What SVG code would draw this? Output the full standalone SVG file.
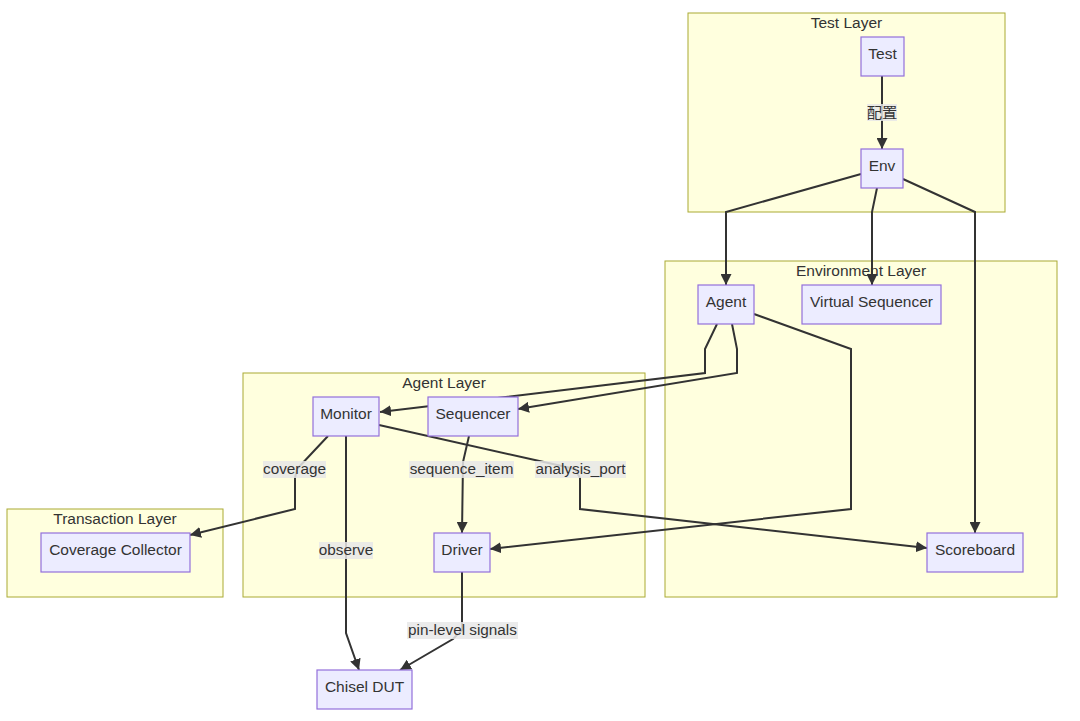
<svg xmlns="http://www.w3.org/2000/svg" width="1080" height="721" viewBox="0 0 1080 721">
<defs>
<marker id="arrow" viewBox="0 0 10 10" refX="10" refY="5" markerUnits="userSpaceOnUse" markerWidth="11" markerHeight="11" orient="auto">
<path d="M0,0 L10,5 L0,10 z" fill="#333333"/>
</marker>
<style>
.cluster rect{fill:#ffffde;stroke:#aaaa33;stroke-width:1}
.ctitle{font-family:"Liberation Sans",Arial,sans-serif;font-size:15.5px;fill:#333333;text-anchor:middle}
.node rect{fill:#ececff;stroke:#9370db;stroke-width:1.2}
.node text{font-family:"Liberation Sans",Arial,sans-serif;font-size:15.5px;fill:#333333;text-anchor:middle}
.edge{fill:none;stroke:#333333;stroke-width:2;marker-end:url(#arrow)}
.elabel rect{fill:#e8e8e8;fill-opacity:0.85}
.elabel text{font-family:"Liberation Sans","Noto Sans CJK SC",Arial,sans-serif;font-size:15.3px;fill:#333333;text-anchor:middle}
</style>
</defs>
<rect width="1080" height="721" fill="#ffffff"/>
<g id="clusters">
<g id="cluster-test" class="cluster"><rect x="688" y="13" width="317" height="199"/><text class="ctitle" x="846.5" y="27.5">Test Layer</text></g>
<g id="cluster-env" class="cluster"><rect x="665" y="261" width="392" height="336"/><text class="ctitle" x="861" y="276">Environment Layer</text></g>
<g id="cluster-agent" class="cluster"><rect x="243" y="373" width="402" height="224"/><text class="ctitle" x="444" y="387.5">Agent Layer</text></g>
<g id="cluster-trans" class="cluster"><rect x="7" y="509" width="216" height="88"/><text class="ctitle" x="115" y="523.5">Transaction Layer</text></g>
</g>
<g id="connectors">
<path class="edge" d="M882,76 L882,149"/>
<path class="edge" d="M861,174 L726,212 L726,285"/>
<path class="edge" d="M877,188 L872,212 L872,285"/>
<path class="edge" d="M903,179 L975,212 L975,533"/>
<path class="edge" d="M717,324 L705,349 L705,373 L380,412"/>
<path class="edge" d="M732,324 L737,349 L737,373 L518,409"/>
<path class="edge" d="M754,314 L851,349 L851,509 L490,549"/>
<path class="edge" d="M328,436 L297,469 L295,478 L295,509 L190,535"/>
<path class="edge" d="M346,436 L346,633 L359,670"/>
<path class="edge" d="M469,436 L463,462 L462,533"/>
<path class="edge" d="M379,425 L575,469 L580,478 L580,509 L927,548"/>
<path class="edge" d="M462,572 L462,630 L453,639 L400,670"/>
</g>
<g id="edge-labels">
<g class="elabel"><rect x="867" y="104" width="30" height="17"/><text x="882" y="117.5">配置</text></g>
<g class="elabel"><rect x="263" y="461" width="63" height="17"/><text x="294.5" y="474">coverage</text></g>
<g class="elabel"><rect x="319" y="542" width="54" height="17"/><text x="346" y="555">observe</text></g>
<g class="elabel"><rect x="409" y="461" width="105" height="17"/><text x="461.5" y="474">sequence_item</text></g>
<g class="elabel"><rect x="535" y="461" width="91" height="17"/><text x="580.5" y="474">analysis_port</text></g>
<g class="elabel"><rect x="407" y="622" width="111" height="17"/><text x="462.5" y="635">pin-level signals</text></g>
</g>
<g id="node-test" class="node"><rect x="861" y="37" width="43" height="39"/><text x="882.5" y="58.5">Test</text></g>
<g id="node-env" class="node"><rect x="861" y="149" width="42" height="39"/><text x="882" y="170.5">Env</text></g>
<g id="node-agent" class="node"><rect x="698" y="285" width="56" height="39"/><text x="726" y="306.5">Agent</text></g>
<g id="node-vseq" class="node"><rect x="802" y="285" width="139" height="39"/><text x="871.5" y="306.5">Virtual Sequencer</text></g>
<g id="node-scoreboard" class="node"><rect x="927" y="533" width="96" height="39"/><text x="975" y="554.5">Scoreboard</text></g>
<g id="node-monitor" class="node"><rect x="313" y="397" width="66" height="39"/><text x="346" y="418.5">Monitor</text></g>
<g id="node-sequencer" class="node"><rect x="428" y="397" width="90" height="39"/><text x="473" y="418.5">Sequencer</text></g>
<g id="node-driver" class="node"><rect x="434" y="533" width="56" height="39"/><text x="462" y="554.5">Driver</text></g>
<g id="node-coverage" class="node"><rect x="41" y="533" width="149" height="39"/><text x="115.5" y="554.5">Coverage Collector</text></g>
<g id="node-dut" class="node"><rect x="317" y="670" width="95" height="39"/><text x="364.5" y="691.5">Chisel DUT</text></g>
</svg>
